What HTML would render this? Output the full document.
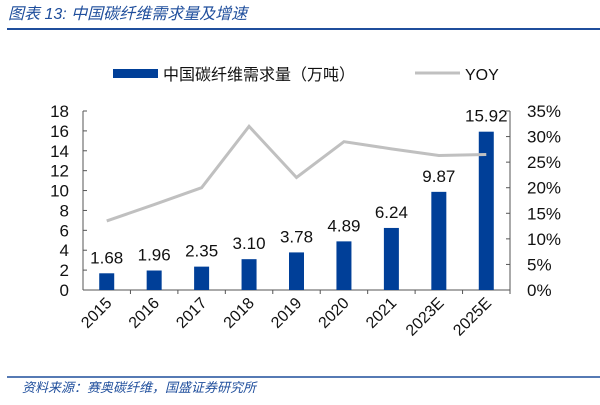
<!DOCTYPE html>
<html><head><meta charset="utf-8"><style>
body{margin:0;background:#fff;width:600px;height:400px;overflow:hidden}
text{font-family:"Liberation Sans","Noto Sans CJK SC",sans-serif}
</style></head><body>
<svg id="c" width="600" height="400">
<text x="8" y="19" font-size="16" fill="#1f4e9c" font-style="italic" font-family="'Noto Serif CJK SC',serif">图表 13:  中国碳纤维需求量及增速</text>
<line x1="7" y1="29" x2="600" y2="29" stroke="#1f4e9c" stroke-width="2"/>
<g>
<rect x="113" y="69" width="45" height="9" fill="#003f98"/>
<text x="163" y="80" font-size="16" fill="#111">中国碳纤维需求量（万吨）</text>
<line x1="415" y1="73" x2="460" y2="73" stroke="#c0c0c0" stroke-width="3"/>
<text x="465" y="80" font-size="16" fill="#111">YOY</text>
</g>
<g id="plot"></g>
<line x1="7" y1="377" x2="600" y2="377" stroke="#1f4e9c" stroke-width="1.5"/>
<text x="22" y="392" font-size="13" fill="#1f4e9c" font-style="italic" font-family="'Noto Serif CJK SC',serif">资料来源：赛奥碳纤维，国盛证券研究所</text>
</svg>
<script>
const categories=["2015","2016","2017","2018","2019","2020","2021","2023E","2025E"];
const demand=[1.68,1.96,2.35,3.10,3.78,4.89,6.24,9.87,15.92];
const demandLabels=["1.68","1.96","2.35","3.10","3.78","4.89","6.24","9.87","15.92"];
const yoy=[13.5,16.7,20,32,22,29,27.6,26.3,26.5];
const leftTicks=[0,2,4,6,8,10,12,14,16,18];
const rightTicks=[0,5,10,15,20,25,30,35];
const NS="http://www.w3.org/2000/svg";
const g=document.getElementById('plot');
const x0=83,x1=510,yb=290,yt=111;
const yL=v=>yb-(v/18)*(yb-yt);
const yR=v=>yb-(v/35)*(yb-yt);
const step=(x1-x0)/categories.length;
const xC=i=>x0+step*(i+0.5);
function mk(t,a){const e=document.createElementNS(NS,t);for(const k in a)e.setAttribute(k,a[k]);g.appendChild(e);return e;}
let e;
e=mk('line',{x1:x0,y1:yt,x2:x0,y2:yb,stroke:'#555','stroke-width':1});


e=mk('line',{x1:x1,y1:yt,x2:x1,y2:yb,stroke:'#555','stroke-width':1});


e=mk('line',{x1:x0,y1:yb,x2:x1,y2:yb,stroke:'#555','stroke-width':1});


leftTicks.forEach(v=>{
 e=mk('line',{x1:x0,y1:yL(v),x2:x0+4,y2:yL(v),stroke:'#555'});
 
 
 e=mk('text',{x:x0-14,y:yL(v)+6,'font-size':17,'text-anchor':'end',fill:'#111'});e.textContent=v;
 
 
});
rightTicks.forEach(v=>{
 e=mk('line',{x1:x1-4,y1:yR(v),x2:x1,y2:yR(v),stroke:'#555'});
 
 
 e=mk('text',{x:x1+17,y:yR(v)+6,'font-size':17,fill:'#111'});e.textContent=v+'%';
 
 
});
categories.forEach((c,i)=>{
 e=mk('line',{x1:x0+step*(i+1),y1:yb,x2:x0+step*(i+1),y2:yb+4,stroke:'#555'});
 
 
 e=mk('rect',{x:xC(i)-7.5,y:yL(demand[i]),width:15,height:yb-yL(demand[i]),fill:'#003f98'});
 
 
 e=mk('text',{x:xC(i),y:yL(demand[i])-10,'font-size':17,'text-anchor':'middle',fill:'#111'});e.textContent=demandLabels[i];
 
 
 const lx=xC(i)+6,ly=yb+14;
 e=mk('text',{x:lx,y:ly,'font-size':16,'text-anchor':'end',fill:'#111',transform:`rotate(-45 ${lx} ${ly})`});e.textContent=c;
 
 
});
e=mk('polyline',{points:yoy.map((v,i)=>xC(i)+','+yR(v)).join(' '),fill:'none',stroke:'#c0c0c0','stroke-width':3});


</script>
</body></html>
